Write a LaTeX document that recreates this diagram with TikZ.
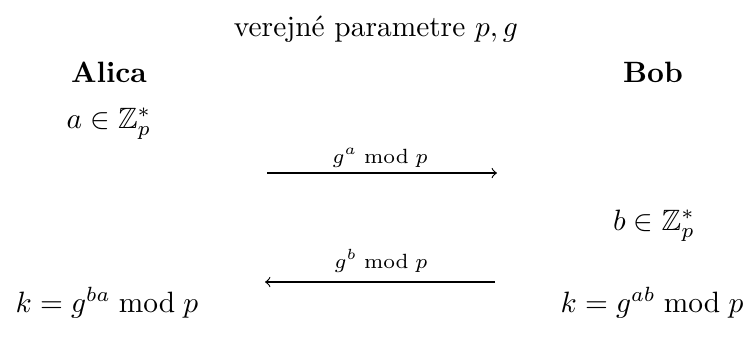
\documentclass[tikz,border=0pt]{standalone}
\usepackage{amsmath,amssymb}
\begin{document}
\begin{tikzpicture}[x=0.3401pt,y=-0.3401pt,
  txt/.style={inner sep=0pt,anchor=base},
  lbl/.style={inner sep=0pt,anchor=base,font=\scriptsize},
  msg/.style={->,line width=0.4pt}]
\useasboundingbox (0,0) rectangle (752,338);
\node[txt] (title) at (376,36) {verejn\'e parametre $p, g$};
\node[txt] (alica) at (109,82) {\textbf{Alica}};
\node[txt] (bob) at (653,82) {\textbf{Bob}};
\node[txt] (a) at (109,128) {$a \in \mathbb{Z}_p^*$};
\coordinate (m1s) at (267,173);
\coordinate (m1e) at (497,173);
\draw[msg] (m1s) -- (m1e);
\node[lbl] (l1) at (380,163) {$g^a \bmod p$};
\node[txt] (b) at (654,230) {$b \in \mathbb{Z}_p^*$};
\coordinate (m2s) at (495,282);
\coordinate (m2e) at (265,282);
\draw[msg] (m2s) -- (m2e);
\node[lbl] (l2) at (381,268) {$g^b \bmod p$};
\node[txt] (ka) at (107,312) {$k = g^{ba} \bmod p$};
\node[txt] (kb) at (652,312) {$k = g^{ab} \bmod p$};
\end{tikzpicture}
\end{document}
